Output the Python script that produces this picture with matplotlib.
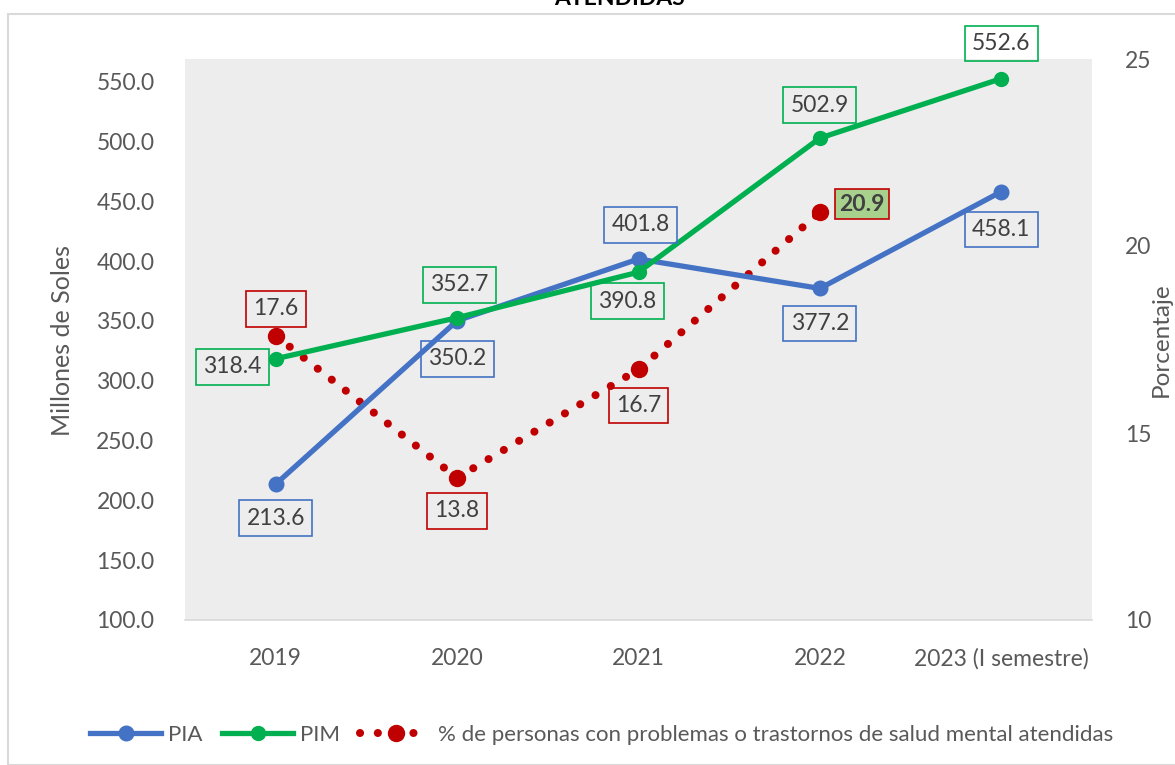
import numpy as np
import matplotlib.pyplot as plt
from matplotlib.patches import Rectangle

plt.rcParams['font.family'] = ['Lato', 'DejaVu Sans']

years = ["2019", "2020", "2021", "2022", "2023 (I semestre)"]
pia = [213.6, 350.2, 401.8, 377.2, 458.1]
pim = [318.4, 352.7, 390.8, 502.9, 552.6]
pct = [17.6, 13.8, 16.7, 20.9]

blue = "#4472C4"
green = "#00B050"
red = "#C00000"
grey = "#595959"
fs = 16.5

fig = plt.figure(figsize=(11.75, 7.65), dpi=100)
ax2 = fig.add_axes([185 / 1175, 1 - 620 / 765, 907 / 1175, 561 / 765])
ax = ax2.twinx()  # left-scale axis drawn on top
ax.yaxis.tick_left()
ax2.yaxis.tick_right()

x = np.arange(len(years))
ax2.set_facecolor("#EDEDED")
l1, = ax.plot(x, pia, color=blue, lw=3.8, marker="o", ms=10.5, label="PIA", zorder=3)
l2, = ax.plot(x, pim, color=green, lw=3.8, marker="o", ms=10, label="PIM", zorder=3)
l3, = ax2.plot(x[:len(pct)], pct, color=red, lw=5.8, ls=(0, (0.01, 2.2)),
               dash_capstyle="round", marker="o", ms=11.5,
               label="% de personas con problemas o trastornos de salud mental atendidas")

ax.set_xlim(-0.5, 4.5)
ax.set_ylim(100, 569)
ax.set_yticks(np.arange(100, 551, 50))
ax.set_yticklabels([f"{v:.1f}" for v in np.arange(100, 551, 50)])
ax2.set_ylim(10, 25)
ax2.set_yticks([10, 15, 20, 25])
ax2.set_xticks(x)
ax2.set_xticklabels(years)

for a in (ax, ax2):
    for s in a.spines.values():
        s.set_visible(False)
    a.tick_params(length=0, colors=grey, labelsize=fs)
ax2.spines["bottom"].set_visible(True)
ax2.spines["bottom"].set_color("#D9D9D9")
ax2.spines["bottom"].set_linewidth(1.2)
ax.tick_params(axis="y", pad=22)
ax2.tick_params(axis="x", pad=20)
ax2.tick_params(axis="y", pad=24)

# axis titles
fig.text(63 / 1175, 1 - 340 / 765, "Millones de Soles", rotation=90, ha="center",
         va="center", color=grey, fontsize=18)
fig.text(1161 / 1175, 1 - 340 / 765, "Porcentaje", rotation=90, ha="center",
         va="center", color=grey, fontsize=17.5)

def label(axis, xi, yi, text, dx, dy, color, bold=False, fill="none", pad=0.32):
    axis.annotate(text, (xi, yi), xytext=(dx, dy), textcoords="offset pixels",
                  ha="center", va="center", fontsize=fs, color="#404040",
                  fontweight="bold" if bold else "normal",
                  bbox=dict(boxstyle=f"square,pad={pad}", fc=fill, ec=color, lw=1.2),
                  zorder=5)

pia_off = [(0, -34), (0, -38), (2, 34), (0, -35), (0, -38)]
pim_off = [(-43, -8), (2, 33), (-11, -29), (0, 33), (0, 35)]
pct_off = [(0, 27), (0, -33), (0, -36)]

for i, v in enumerate(pia):
    label(ax, x[i], v, f"{v:.1f}", *pia_off[i], blue)
for i, v in enumerate(pim):
    label(ax, x[i], v, f"{v:.1f}", *pim_off[i], green)
for i, v in enumerate(pct[:3]):
    label(ax2, x[i], v, f"{v:.1f}", *pct_off[i], red)
label(ax2, x[3], pct[3], f"{pct[3]:.1f}", 42, 8, red, bold=True, fill="#A9D18E", pad=0.2)

fig.legend(handles=[l1, l2, l3], loc="center", bbox_to_anchor=(0.512, 1 - 735 / 765),
           ncol=3, frameon=False, fontsize=16, labelcolor=grey, handlelength=3.2,
           handletextpad=0.3, columnspacing=0.9)

fig.text(620 / 1175, 1 - 5 / 765, "ATENDIDAS", ha="center", va="baseline",
         fontsize=fs, fontweight="bold", color="black")

fig.patches.append(Rectangle((8 / 1175, 0), 2, 1 - 14 / 765, transform=fig.transFigure,
                             fill=False, ec="#D9D9D9", lw=1.5, zorder=0))

fig.savefig("out.png", dpi=100)
